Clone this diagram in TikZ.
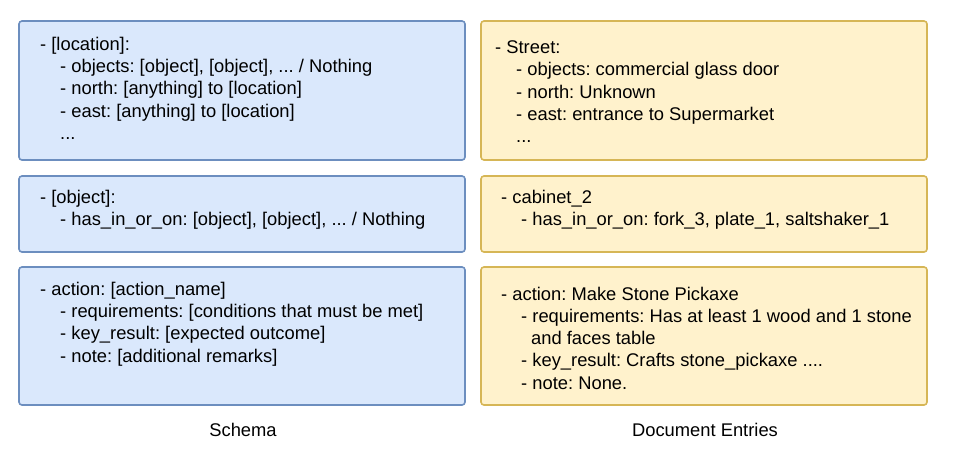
\documentclass[tikz,border=0pt]{standalone}
\usepackage{fontspec}
\setmainfont{Liberation Sans}
\frenchspacing
\begin{document}
\begin{tikzpicture}[x=1pt,y=-1pt,
  bluebox/.style={draw=blueline, fill=bluefill, line width=1.6pt, rounded corners=3pt},
  yellowbox/.style={draw=yellowline, fill=yellowfill, line width=1.6pt, rounded corners=3pt},
  txt/.style={anchor=base west, inner sep=0pt, font=\fontsize{18.35}{22}\selectfont\frenchspacing, text=black},
  caption/.style={anchor=base, inner sep=0pt, font=\fontsize{18.35}{22}\selectfont\frenchspacing, text=black}]
\definecolor{bluefill}{HTML}{DAE8FC}
\definecolor{blueline}{HTML}{6C8EBF}
\definecolor{yellowfill}{HTML}{FFF2CC}
\definecolor{yellowline}{HTML}{D6B656}
\useasboundingbox[fill=white] (0,0) rectangle (977,459);
% boxes
\draw[bluebox] (19,21) rectangle (465,160);
\draw[bluebox] (19,176) rectangle (465,252);
\draw[bluebox] (19,267) rectangle (465,405);
\draw[yellowbox] (481,21) rectangle (927,160);
\draw[yellowbox] (481,176) rectangle (927,252);
\draw[yellowbox] (481,267) rectangle (927,405);
% left box 1
\node[txt] (l1a) at (40,50.3) {- [location]:};
\node[txt] (l1b) at (60,72.6) {- objects: [object], [object], ... / Nothing};
\node[txt] (l1c) at (60,94.9) {- north: [anything] to [location]};
\node[txt] (l1d) at (60,117.2) {- east: [anything] to [location]};
\node[txt] (l1e) at (60,139.5) {...};
% left box 2
\node[txt] (l2a) at (40,203.2) {- [object]:};
\node[txt] (l2b) at (60,225.4) {- has\_in\_or\_on: [object], [object], ... / Nothing};
% left box 3
\node[txt] (l3a) at (40,295.3) {- action: [action\_name]};
\node[txt] (l3b) at (60,317.6) {- requirements: [conditions that must be met]};
\node[txt] (l3c) at (60,339.9) {- key\_result: [expected outcome]};
\node[txt] (l3d) at (60,362.2) {- note: [additional remarks]};
% right box 1
\node[txt] (r1a) at (495,53.5) {- Street:};
\node[txt] (r1b) at (516,75.8) {- objects: commercial glass door};
\node[txt] (r1c) at (516,98.1) {- north: Unknown};
\node[txt] (r1d) at (516,120.4) {- east: entrance to Supermarket};
\node[txt] (r1e) at (516,142.7) {...};
% right box 2
\node[txt] (r2a) at (501,203.2) {- cabinet\_2};
\node[txt] (r2b) at (521,225.4) {- has\_in\_or\_on: fork\_3, plate\_1, saltshaker\_1};
% right box 3
\node[txt] (r3a) at (501,300) {- action: Make Stone Pickaxe};
\node[txt] (r3b) at (521,322.3) {- requirements: Has at least 1 wood and 1 stone};
\node[txt] (r3c) at (531,344.6) {and faces table};
\node[txt] (r3d) at (521,366.9) {- key\_result: Crafts stone\_pickaxe ....};
\node[txt] (r3e) at (521,389.2) {- note: None.};
% captions
\node[caption] (schema) at (243,436) {Schema};
\node[caption] (docs) at (705,436) {Document Entries};
\end{tikzpicture}
\end{document}
